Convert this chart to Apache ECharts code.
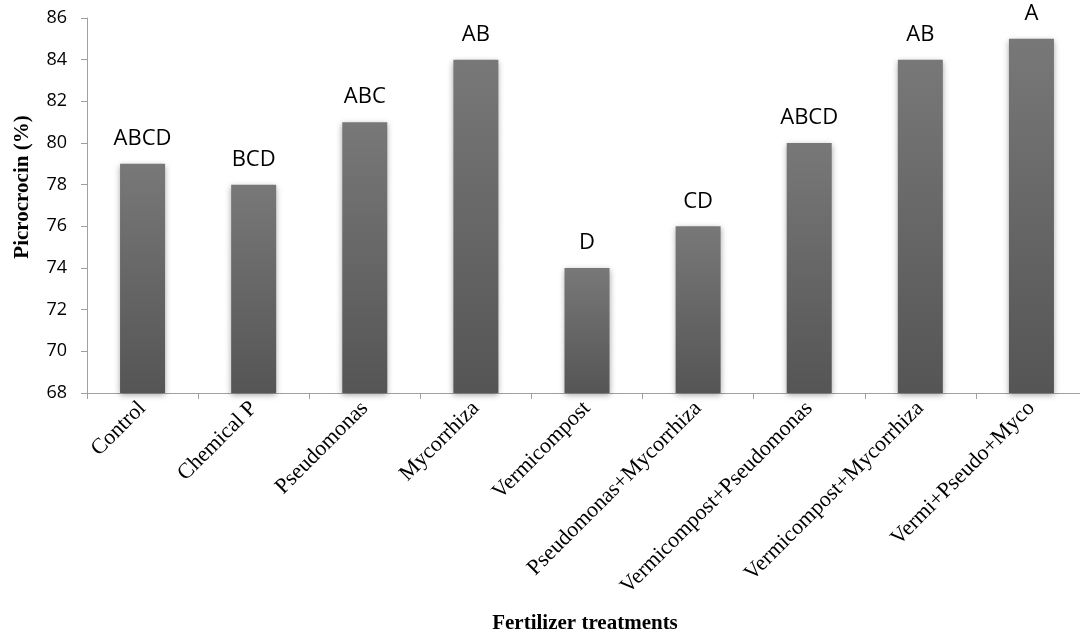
<!DOCTYPE html>
<html>
<head>
<meta charset="utf-8">
<style>
html,body{margin:0;padding:0;background:#fff;}
#chart{width:1080px;height:637px;}
</style>
<script src="https://cdn.jsdelivr.net/npm/echarts@6/dist/echarts.min.js"></script>
</head>
<body>
<div id="chart"></div>
<script>
const categories = ['Control','Chemical P','Pseudomonas','Mycorrhiza','Vermicompost','Pseudomonas+Mycorrhiza','Vermicompost+Pseudomonas','Vermicompost+Mycorrhiza','Vermi+Pseudo+Myco'];
const values = [79, 78, 81, 84, 74, 76, 80, 84, 85];
const letters = ['ABCD','BCD','ABC','AB','D','CD','ABCD','AB','A'];
const yMin = 68, yMax = 86, yStep = 2;

const chart = echarts.init(document.getElementById('chart'), null, {renderer:'canvas'});
const axisGray = '#a0a0a0';
chart.setOption({
  animation:false,
  backgroundColor:'#ffffff',
  grid:{left:87, top:18, width:1000, bottom:244, outerBoundsMode:'none', containLabel:false},
  xAxis:{
    type:'category', data:categories,
    axisLine:{lineStyle:{color:axisGray, width:1}},
    axisTick:{show:true, length:6, alignWithLabel:false, lineStyle:{color:axisGray}},
    axisLabel:{rotate:45, interval:0, margin:12, color:'#000', fontFamily:'"Liberation Serif", "Times New Roman", serif', fontSize:22},
    splitLine:{show:false}
  },
  yAxis:{
    type:'value', min:yMin, max:yMax, interval:yStep,
    axisLine:{show:true, lineStyle:{color:axisGray, width:1}},
    axisTick:{show:true, length:6, lineStyle:{color:axisGray}},
    axisLabel:{margin:20, color:'#000', fontFamily:'"Open Sans", sans-serif', fontSize:18},
    splitLine:{show:false}
  },
  graphic:[
    {type:'text', x:23, y:187, rotation:Math.PI/2,
     style:{text:'Picrocrocin (%)', fill:'#000', font:'bold 21px "Liberation Serif", "Times New Roman", serif', align:'center', verticalAlign:'middle'}},
    {type:'text', x:585, y:624,
     style:{text:'Fertilizer treatments', fill:'#000', font:'bold 21px "Liberation Serif", "Times New Roman", serif', align:'center', verticalAlign:'middle'}}
  ],
  series:[{
    type:'bar', data:values, barWidth:45,
    itemStyle:{
      color:new echarts.graphic.LinearGradient(0,0,0,1,[{offset:0,color:'#787878'},{offset:1,color:'#555555'}]),
      shadowBlur:6, shadowColor:'rgba(0,0,0,0.35)', shadowOffsetX:0, shadowOffsetY:2
    },
    label:{
      show:true, position:'top', distance:14,
      formatter:(p)=>letters[p.dataIndex],
      color:'#000', fontFamily:'"Open Sans", sans-serif', fontSize:22
    }
  }]
});
</script>
</body>
</html>
